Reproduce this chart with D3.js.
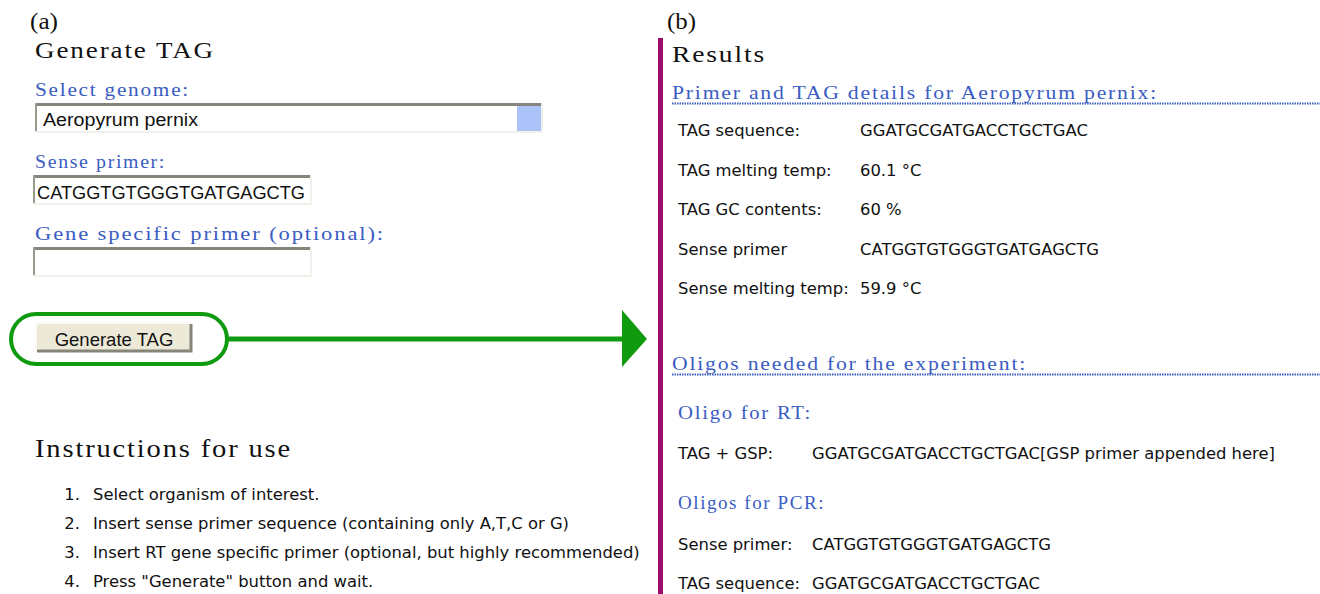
<!DOCTYPE html>
<html>
<head>
<meta charset="utf-8">
<script src="https://cdn.jsdelivr.net/npm/d3@7"></script>
<style>
  body { margin: 0; background: #fff; }
  svg { display: block; }
</style>
</head>
<body>
<svg id="fig" width="1320" height="594"></svg>
<script>
// panel (a): form
const formLabels = ['Select genome:', 'Sense primer:', 'Gene specific primer (optional):'];
const formValues = ['Aeropyrum pernix', 'CATGGTGTGGGTGATGAGCTG', ''];
const buttonLabel = 'Generate TAG';
const instructions = [
  'Select organism of interest.',
  'Insert sense primer sequence (containing only A,T,C or G)',
  'Insert RT gene specific primer (optional, but highly recommended)',
  'Press "Generate" button and wait.'
];

// panel (b): results
const detailLabels = ['TAG sequence:', 'TAG melting temp:', 'TAG GC contents:', 'Sense primer', 'Sense melting temp:'];
const detailValues = ['GGATGCGATGACCTGCTGAC', '60.1 °C', '60 %', 'CATGGTGTGGGTGATGAGCTG', '59.9 °C'];
const rtLabels = ['TAG + GSP:'];
const rtValues = ['GGATGCGATGACCTGCTGAC[GSP primer appended here]'];
const pcrLabels = ['Sense primer:', 'TAG sequence:'];
const pcrValues = ['CATGGTGTGGGTGATGAGCTG', 'GGATGCGATGACCTGCTGAC'];

const svg = d3.select('#fig');
const serif = '"Liberation Serif", "DejaVu Serif", serif';
const sans = '"Liberation Sans", Arial, sans-serif';
const verdana = '"DejaVu Sans", Verdana, sans-serif';
const blue = '#3a5cc2';
const green = '#109a10';
const vsize = 16.4;

function txt(g, x, y, s, opts = {}) {
  const t = g.append('text')
    .attr('x', x).attr('y', y)
    .attr('font-family', opts.family || serif)
    .attr('font-size', opts.size || 16)
    .attr('fill', opts.fill || '#111')
    .attr('text-anchor', opts.anchor || 'start')
    .text(s);
  if (opts.spacing) t.attr('letter-spacing', opts.spacing);
  if (opts.len) t.attr('textLength', opts.len).attr('lengthAdjust', opts.adjust || 'spacingAndGlyphs');
  return t;
}

// serif headings: moderate tracking, then fitted to the measured width
function heading(g, x, y, s, size, len, fill) {
  return txt(g, x, y, s, { size: size, len: len, fill: fill || '#111', spacing: 1.6 });
}

// ---------- panel (a) ----------
const a = svg.append('g');
txt(a, 30, 29, '(a)', { size: 23, len: 28 });
heading(a, 35, 58, 'Generate TAG', 23, 180);

const fieldY = d3.scaleLinear().domain([0, formLabels.length - 1]).range([96, 240]);
const labelLens = [155, 131, 350];
const boxW = [508, 279, 279];

formLabels.forEach((lab, i) => {
  const y = fieldY(i);
  heading(a, 35, y, lab, 19.5, labelLens[i], blue);
  const bx = i === 0 ? 35 : 33, by = y + 7, bw = boxW[i], bh = 30;
  a.append('rect').attr('x', bx).attr('y', by).attr('width', bw).attr('height', bh).attr('fill', '#fff');
  // sunken border
  a.append('rect').attr('x', bx).attr('y', by).attr('width', bw).attr('height', 3).attr('fill', '#85857b');
  a.append('rect').attr('x', bx).attr('y', by).attr('width', 2).attr('height', bh).attr('fill', '#9a9a90');
  a.append('rect').attr('x', bx).attr('y', by + bh - 2).attr('width', bw).attr('height', 2).attr('fill', '#f1f0ea');
  a.append('rect').attr('x', bx + bw - 2).attr('y', by).attr('width', 2).attr('height', bh).attr('fill', '#f1f0ea');
  if (i === 0) {
    a.append('rect').attr('x', bx + bw - 26).attr('y', by + 3).attr('width', 24).attr('height', bh - 5)
      .attr('fill', '#acc3fa');
    txt(a, bx + 8, by + 23, formValues[i], { family: sans, size: 18, len: 155 });
  } else if (formValues[i]) {
    txt(a, bx + 4, by + 24, formValues[i], { family: sans, size: 19, len: 268 });
  }
});

// button with green outline and arrow
const btn = { x: 36, y: 323, w: 156, h: 29 };
a.append('rect').attr('x', btn.x).attr('y', btn.y).attr('width', btn.w).attr('height', btn.h).attr('fill', '#ece9d8');
a.append('path').attr('d', `M${btn.x},${btn.y + btn.h}V${btn.y}H${btn.x + btn.w}`)
  .attr('fill', 'none').attr('stroke', '#fbfaf4').attr('stroke-width', 2);
a.append('path').attr('d', `M${btn.x + 1},${btn.y + btn.h - 1}H${btn.x + btn.w - 1}V${btn.y + 1}`)
  .attr('fill', 'none').attr('stroke', '#858579').attr('stroke-width', 3);
txt(a, btn.x + btn.w / 2, 346, buttonLabel, { family: sans, size: 18.5, anchor: 'middle' });

a.append('rect').attr('x', 11).attr('y', 314).attr('width', 216).attr('height', 50).attr('rx', 25)
  .attr('fill', 'none').attr('stroke', green).attr('stroke-width', 4);
a.append('line').attr('x1', 227).attr('x2', 624).attr('y1', 339).attr('y2', 339)
  .attr('stroke', green).attr('stroke-width', 5);
a.append('path').attr('d', 'M622,310L647,339L622,367Z').attr('fill', green);

// instructions
heading(a, 35, 457, 'Instructions for use', 25, 257);
const instrY = d3.scaleLinear().domain([0, instructions.length - 1]).range([500, 587]);
instructions.forEach((s, i) => {
  txt(a, 80, instrY(i), (i + 1) + '.', { family: verdana, size: vsize, anchor: 'end' });
  txt(a, 93, instrY(i), s, { family: verdana, size: vsize });
});

// ---------- panel (b) ----------
const b = svg.append('g');
txt(b, 667, 29, '(b)', { size: 23, len: 29 });
b.append('rect').attr('x', 658).attr('y', 38).attr('width', 5).attr('height', 556).attr('fill', '#9c0c6c');
heading(b, 672, 62, 'Results', 24, 94);

function section(y, s, len) {
  heading(b, 672, y, s, 19.5, len, blue);
  b.append('line').attr('x1', 672).attr('x2', 1320).attr('y1', y + 4.5).attr('y2', y + 4.5)
    .attr('stroke', blue).attr('stroke-width', 2).attr('stroke-dasharray', '1.5,1');
}
section(99, 'Primer and TAG details for Aeropyrum pernix:', 486);

const detailY = d3.scaleLinear().domain([0, detailLabels.length - 1]).range([136, 294]);
detailLabels.forEach((lab, i) => {
  txt(b, 678, detailY(i), lab, { family: verdana, size: vsize });
  txt(b, 860, detailY(i), detailValues[i], { family: verdana, size: vsize });
});

section(370, 'Oligos needed for the experiment:', 355);

heading(b, 678, 419, 'Oligo for RT:', 19.5, 134, blue);
rtLabels.forEach((lab, i) => {
  txt(b, 678, 459 + i * 40, lab, { family: verdana, size: vsize });
  txt(b, 812, 459 + i * 40, rtValues[i], { family: verdana, size: vsize });
});

heading(b, 678, 509, 'Oligos for PCR:', 19.5, 147, blue);
const pcrY = d3.scaleLinear().domain([0, pcrLabels.length - 1]).range([550, 589]);
pcrLabels.forEach((lab, i) => {
  txt(b, 678, pcrY(i), lab, { family: verdana, size: vsize });
  txt(b, 812, pcrY(i), pcrValues[i], { family: verdana, size: vsize });
});
</script>
</body>
</html>
